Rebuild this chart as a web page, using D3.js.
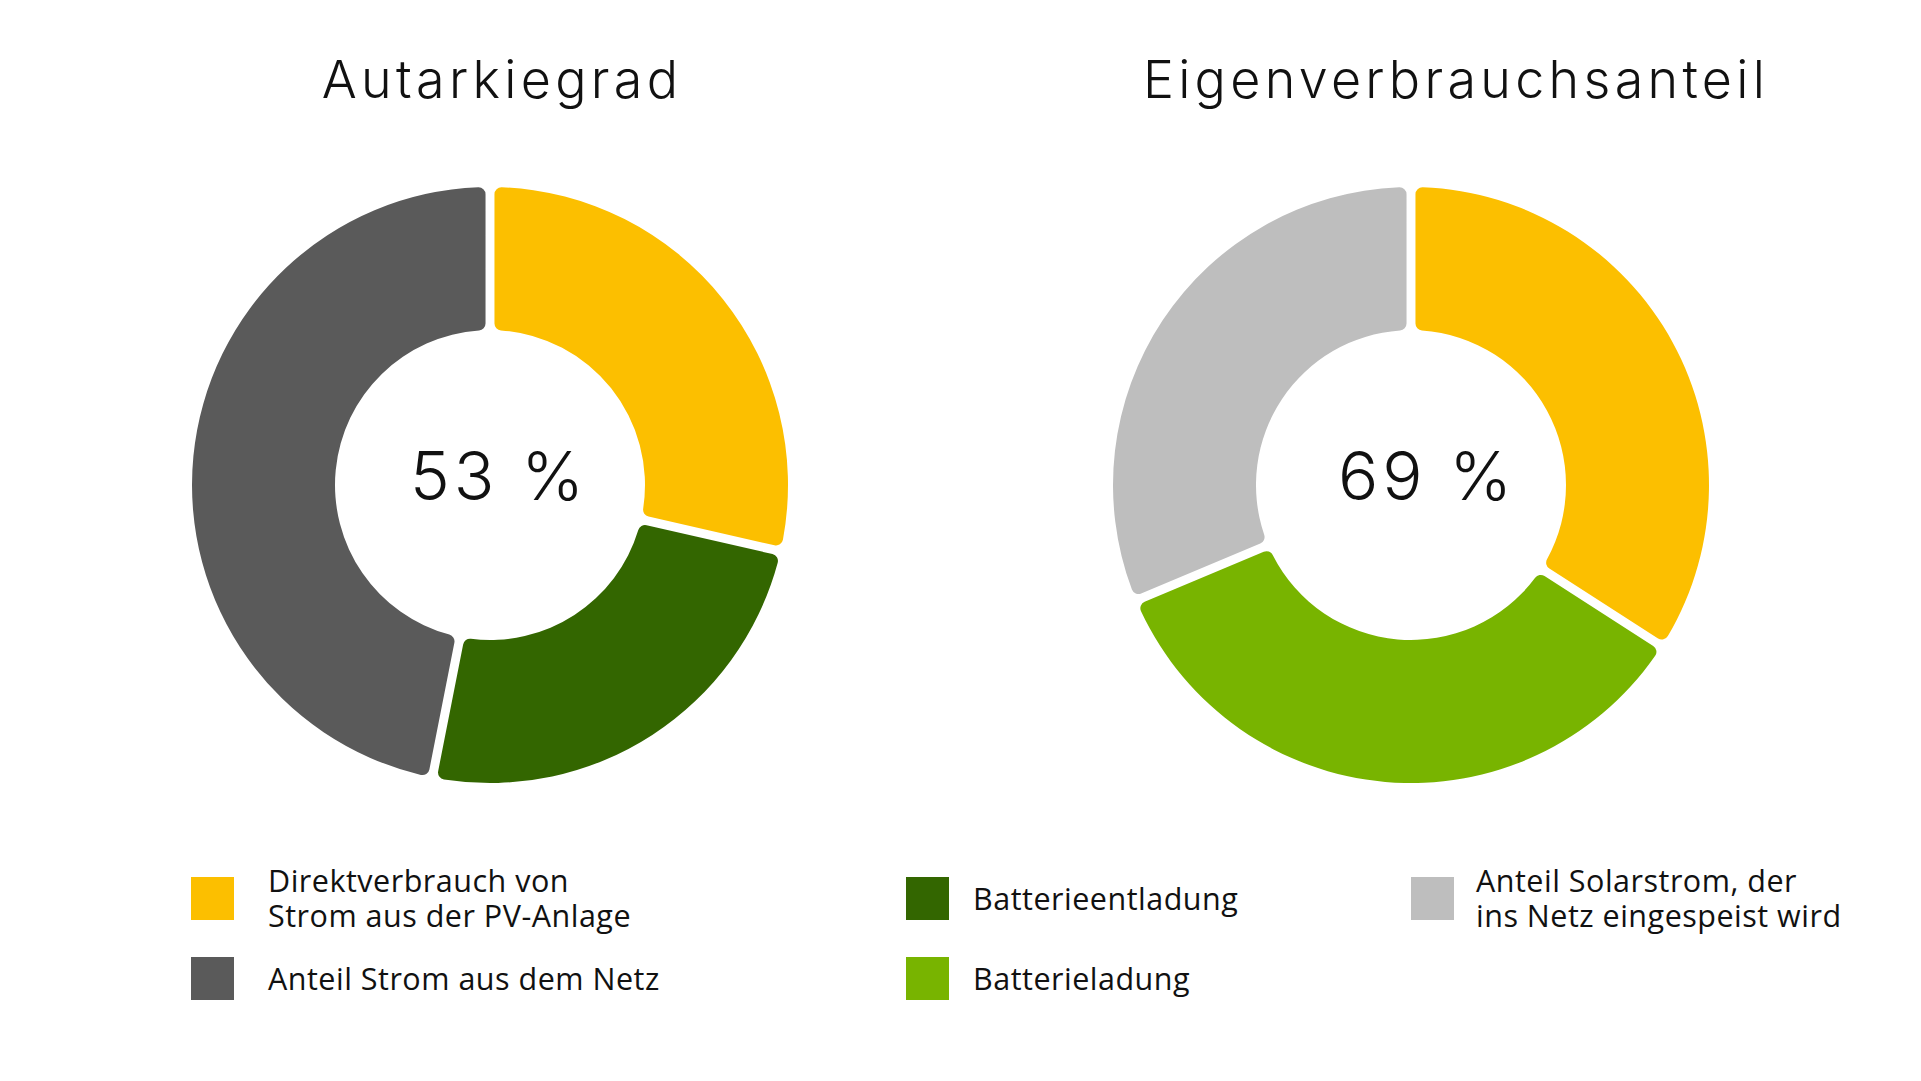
<!DOCTYPE html>
<html>
<head>
<meta charset="utf-8">
<script src="https://cdn.jsdelivr.net/npm/d3@7"></script>
<style>
	body { margin: 0; background: #ffffff; }
	svg { display: block; }
</style>
</head>
<body>
<svg id="chart" width="1921" height="1081"></svg>
<script>
// chart data
let titles = ['Autarkiegrad', 'Eigenverbrauchsanteil']
let centerValues = [53, 69]

let autarkieCategories = ['Direktverbrauch', 'Batterieentladung', 'Netzbezug']
let autarkieValues = [28.5, 24.4, 47.1]

let eigenCategories = ['Direktverbrauch', 'Batterieladung', 'Einspeisung']
let eigenValues = [34.1, 34.6, 31.3]

let legendCategories = ['Direktverbrauch', 'Netzbezug', 'Batterieentladung', 'Batterieladung', 'Einspeisung']
let legendLabels = [
	['Direktverbrauch von', 'Strom aus der PV-Anlage'],
	['Anteil Strom aus dem Netz'],
	['Batterieentladung'],
	['Batterieladung'],
	['Anteil Solarstrom, der', 'ins Netz eingespeist wird']
]
let categoryColors = ['#FCBF00', '#5A5A5A', '#336600', '#78B400', '#BEBEBE']

let color = d3.scaleOrdinal()
	.domain(legendCategories)
	.range(categoryColors)

let svg = d3.select('#chart')

// layout
let outerR = 298,
	innerR = 155,
	centerY = 485
let donuts = [
	{cx: 490, titleX: 502, textX: 499, cats: autarkieCategories, vals: autarkieValues},
	{cx: 1411, titleX: 1456, textX: 1427, cats: eigenCategories, vals: eigenValues}
]

let pie = d3.pie()
	.sort(null)
	.padAngle(0.03)
	.value(function(d) { return d.v })

let arc = d3.arc()
	.innerRadius(innerR)
	.outerRadius(outerR)
	.cornerRadius(7)
	.padRadius(outerR)

donuts.forEach(function(dn, i) {
	let data = dn.cats.map(function(c, j) { return {c: c, v: dn.vals[j]} })

	svg.append('text')
		.attr('x', dn.titleX)
		.attr('y', 98)
		.attr('text-anchor', 'middle')
		.attr('font-family', 'Inter, "DejaVu Sans", sans-serif')
		.attr('font-weight', 300)
		.attr('font-size', 52)
		.attr('letter-spacing', 4.3)
		.attr('fill', '#111111')
		.text(titles[i])

	let g = svg.append('g')
		.attr('transform', 'translate(' + dn.cx + ',' + centerY + ')')

	g.selectAll('path')
		.data(pie(data))
		.enter()
		.append('path')
		.attr('d', arc)
		.attr('fill', function(d) { return color(d.data.c) })

	svg.append('text')
		.attr('x', dn.textX)
		.attr('y', 500)
		.attr('text-anchor', 'middle')
		.attr('font-family', 'Inter, "DejaVu Sans", sans-serif')
		.attr('font-weight', 300)
		.attr('font-size', 67)
		.attr('letter-spacing', 4)
		.attr('fill', '#111111')
		.text(centerValues[i] + ' %')
})

// legend
let legendPos = [
	{x: 191, tx: 268, row: 0},
	{x: 191, tx: 268, row: 1},
	{x: 906, tx: 973, row: 0},
	{x: 906, tx: 973, row: 1},
	{x: 1411, tx: 1476, row: 0}
]
let rowCenters = [898.5, 978.5]
let box = 43,
	lineH = 35.5

let legend = svg.append('g')

legendCategories.forEach(function(c, i) {
	let p = legendPos[i]
	let cy = rowCenters[p.row]
	legend.append('rect')
		.attr('x', p.x)
		.attr('y', cy - box / 2)
		.attr('width', box)
		.attr('height', box)
		.attr('fill', color(c))

	let lines = legendLabels[i]
	let t = legend.append('text')
		.attr('font-family', '"Open Sans", Roboto, sans-serif')
		.attr('font-size', 30.5)
		.attr('letter-spacing', 0.5)
		.attr('fill', '#111111')
	lines.forEach(function(l, k) {
		t.append('tspan')
			.attr('x', p.tx)
			.attr('y', cy + 11 + (k - (lines.length - 1) / 2) * lineH)
			.text(l)
	})
})
</script>
</body>
</html>
